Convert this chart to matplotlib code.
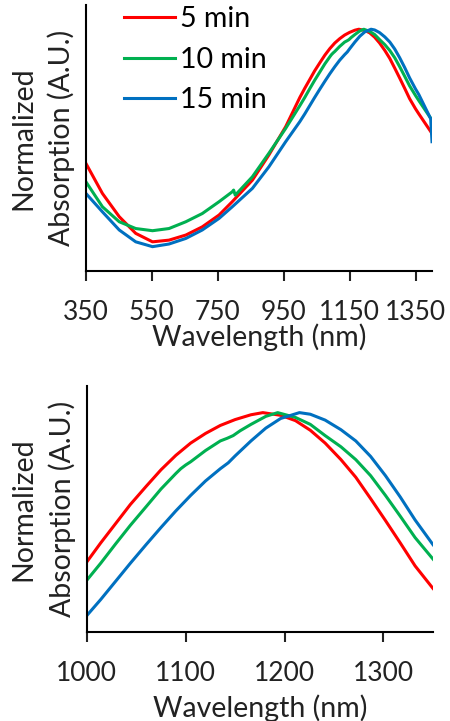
import matplotlib
matplotlib.use("Agg")
from matplotlib import pyplot as plt

plt.rcParams["font.family"] = ["Lato", "DejaVu Sans"]

# Normalized absorption spectra (peak = 1) after 5, 10 and 15 min
wl5 = [350, 400, 451, 501, 552, 602, 653, 703, 754, 794, 855, 905, 956,
       999, 1014, 1029, 1044, 1060, 1075, 1090, 1105, 1120, 1135, 1150,
       1166, 1178, 1196, 1211, 1226, 1241, 1257, 1272, 1287, 1302, 1317,
       1332, 1350, 1360, 1400]
abs5 = [0.445, 0.321, 0.225, 0.156, 0.121, 0.128, 0.149, 0.183, 0.232,
        0.287, 0.376, 0.480, 0.597,
        0.718, 0.756, 0.792, 0.828, 0.862, 0.893, 0.920, 0.943, 0.961,
        0.976, 0.987, 0.996, 1.000, 0.995, 0.985, 0.967, 0.943, 0.912,
        0.879, 0.839, 0.798, 0.756, 0.713, 0.671, 0.650, 0.569]

wl10 = [350, 400, 451, 501, 552, 602, 653, 703, 754, 794, 798, 803, 855,
        905, 956,
        999, 1014, 1029, 1044, 1060, 1075, 1090, 1095, 1100, 1105, 1120,
        1135, 1142, 1148, 1155, 1166, 1181, 1193, 1211, 1226, 1241, 1257,
        1272, 1287, 1302, 1317, 1332, 1350, 1360, 1400]
abs10 = [0.369, 0.266, 0.204, 0.176, 0.167, 0.176, 0.204, 0.238, 0.287,
         0.328, 0.335, 0.314, 0.390, 0.487, 0.590,
         0.684, 0.718, 0.754, 0.789, 0.824, 0.857, 0.886, 0.895, 0.902,
         0.908, 0.929, 0.947, 0.952, 0.957, 0.966, 0.978, 0.993, 1.000,
         0.991, 0.978, 0.957, 0.936, 0.912, 0.882, 0.845, 0.806, 0.766,
         0.726, 0.705, 0.624]

wl15 = [350, 400, 451, 501, 552, 602, 653, 703, 754, 794, 855, 905, 956,
        999, 1014, 1029, 1044, 1060, 1075, 1090, 1105, 1120, 1135, 1143,
        1150, 1166, 1181, 1196, 1215, 1226, 1241, 1257, 1272, 1287, 1302,
        1317, 1332, 1350, 1360, 1396, 1400]
abs15 = [0.321, 0.245, 0.170, 0.121, 0.101, 0.112, 0.135, 0.170, 0.218,
         0.266, 0.342, 0.431, 0.535,
         0.618, 0.650, 0.684, 0.718, 0.753, 0.785, 0.816, 0.845, 0.872,
         0.895, 0.906, 0.919, 0.947, 0.971, 0.989, 1.000, 0.997, 0.986,
         0.968, 0.947, 0.918, 0.882, 0.842, 0.799, 0.753, 0.730, 0.630,
         0.535]

labels = ["5 min", "10 min", "15 min"]
colors = ["#FF0000", "#00B050", "#0070C0"]

top_ticks = [350, 550, 750, 950, 1150, 1350]
bottom_ticks = [1000, 1100, 1200, 1300]


def styleAxis(ax, ticks, xlim, ylim, labelpad):
    ax.set_xlim(*xlim)
    ax.set_ylim(*ylim)
    ax.set_xticks(ticks)
    ax.set_yticks([])
    for side in ["top", "right"]:
        ax.spines[side].set_visible(False)
    for side in ["left", "bottom"]:
        ax.spines[side].set_linewidth(1.5)
        ax.spines[side].set_color("black")
    ax.tick_params(axis="x", direction="out", length=7, width=1.5,
                   pad=14, labelsize=19, colors="#222222")
    ax.set_xlabel("Wavelength (nm)", fontsize=20.5, labelpad=labelpad,
                  color="#222222")
    ax.set_ylabel("Normalized\nAbsorption (A.U.)", fontsize=20.5,
                  linespacing=1.5, labelpad=8, color="#222222")


fig = plt.figure(figsize=(4.5, 7.21), dpi=100)
axTop = fig.add_axes([0.191, 0.624, 0.769, 0.369])
axBottom = fig.add_axes([0.193, 0.124, 0.769, 0.340])

series = [(wl5, abs5), (wl10, abs10), (wl15, abs15)]
for (wl, ab), lab, col in zip(series, labels, colors):
    axTop.plot(wl, ab, color=col, lw=2.2, label=lab,
               solid_joinstyle="round")
    axBottom.plot(wl, ab, color=col, lw=2.2, solid_joinstyle="round")

# full spectrum on top, zoom around the peak below
styleAxis(axTop, top_ticks, (350, 1400), (0, 1.1), -1)
styleAxis(axBottom, bottom_ticks, (1000, 1350), (0.59, 1.049), 6)

axTop.legend(loc="upper left", bbox_to_anchor=(0.11, 0.995), frameon=False,
             fontsize=20.5, handlelength=1.8, handletextpad=0.18,
             labelspacing=0.5, borderpad=0, borderaxespad=0)

plt.savefig("out.png", dpi=100)
plt.close()
